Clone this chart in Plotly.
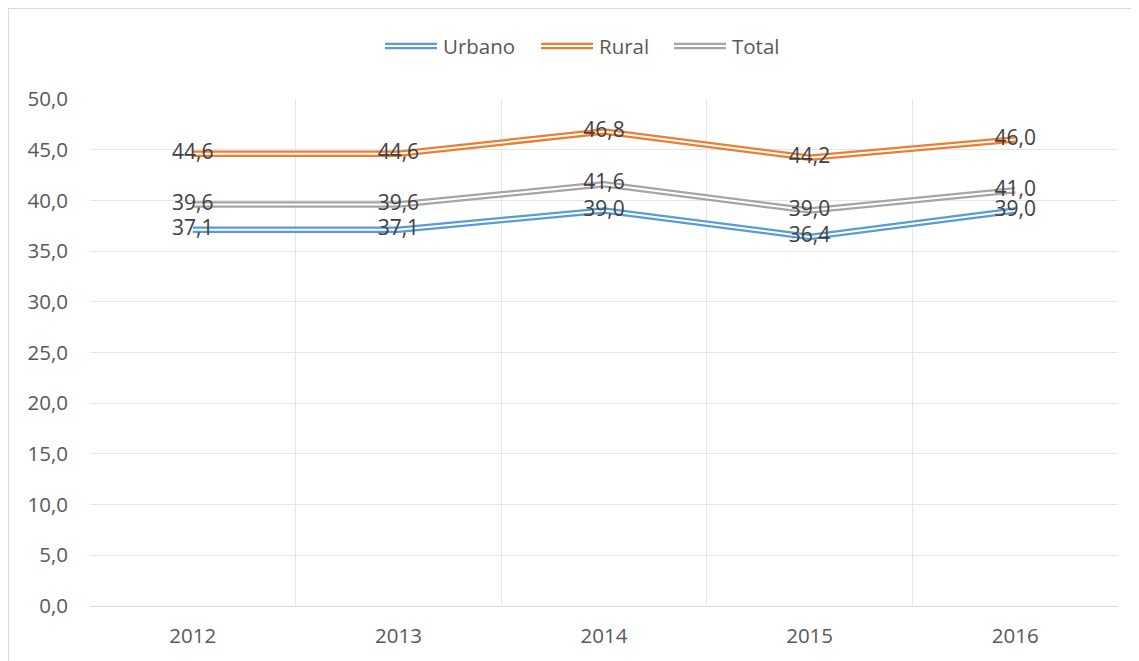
import plotly.graph_objects as go

years = ["2012", "2013", "2014", "2015", "2016"]
urbano = [37.1, 37.1, 39.0, 36.4, 39.0]
rural = [44.6, 44.6, 46.8, 44.2, 46.0]
total = [39.6, 39.6, 41.6, 39.0, 41.0]

series = [("Urbano", urbano, "#5B9BD5"), ("Rural", rural, "#ED7D31"), ("Total", total, "#A5A5A5")]

FONT = "Open Sans"
fig = go.Figure()

for name, vals, col in series:
    fig.add_trace(go.Scatter(x=years, y=vals, mode="lines", name=name,
                             line=dict(color=col, width=6.5), showlegend=False, hoverinfo="skip"))
    fig.add_trace(go.Scatter(x=years, y=vals, mode="lines", name=name,
                             line=dict(color="white", width=2), showlegend=False, hoverinfo="skip"))

for name, vals, col in series:
    fig.add_trace(go.Scatter(x=years, y=vals, mode="text", name=name,
                             text=[f"{v:.1f}".replace(".", ",") for v in vals],
                             textposition="middle center",
                             textfont=dict(family=FONT, size=21, color="#404040"),
                             showlegend=False))

# page offsets the figure by 8px; targets below are screen pixels
OFF = 8
W, H = 1139, 661
L = 90 - OFF
T = 99 - OFF
R = W - (1118 - OFF)
B = H - (606 - OFF)
pw, ph = W - L - R, H - T - B
def px(x): return (x - OFF - L) / pw
def py(y): return (H - B - (y - OFF)) / ph

shapes = [dict(type="rect", xref="paper", yref="paper",
               x0=px(8), x1=px(1160), y0=py(8), y1=py(690),
               line=dict(color="#D9D9D9", width=2), fillcolor="rgba(0,0,0,0)", layer="below")]
annotations = []
legend_items = [("Urbano", "#5B9BD5", 385), ("Rural", "#ED7D31", 541), ("Total", "#A5A5A5", 674)]
ly = 46
for name, col, x0 in legend_items:
    shapes.append(dict(type="line", xref="paper", yref="paper", x0=px(x0), x1=px(x0 + 52),
                       y0=py(ly), y1=py(ly), line=dict(color=col, width=6.5)))
    shapes.append(dict(type="line", xref="paper", yref="paper", x0=px(x0), x1=px(x0 + 52),
                       y0=py(ly), y1=py(ly), line=dict(color="white", width=2)))
    annotations.append(dict(text=name, xref="paper", yref="paper", x=px(x0 + 56), y=py(ly),
                            xanchor="left", yanchor="middle", showarrow=False,
                            font=dict(family=FONT, size=20.5, color="#595959")))

fig.update_layout(
    width=W, height=H,
    margin=dict(l=L, r=R, t=T, b=B),
    paper_bgcolor="white", plot_bgcolor="white",
    separators=",.",
    showlegend=False,
    shapes=shapes, annotations=annotations,
    xaxis=dict(type="category", range=[-0.5, 4.5], tickson="boundaries",
               showgrid=True, gridcolor="#E6E6E6", gridwidth=1,
               showline=True, linecolor="#D9D9D9", linewidth=1, mirror=False,
               ticks="", ticklabelstandoff=11,
               tickfont=dict(family=FONT, size=20.5, color="#595959"), fixedrange=True),
    yaxis=dict(range=[0, 50], dtick=5, tick0=0, tickformat=".1f",
               showgrid=True, gridcolor="#E6E6E6", gridwidth=1,
               zeroline=False, showline=False, ticks="", ticklabelstandoff=21,
               tickfont=dict(family=FONT, size=20.5, color="#595959"), fixedrange=True),
    font=dict(family=FONT),
)

fig.write_html("out.html")
